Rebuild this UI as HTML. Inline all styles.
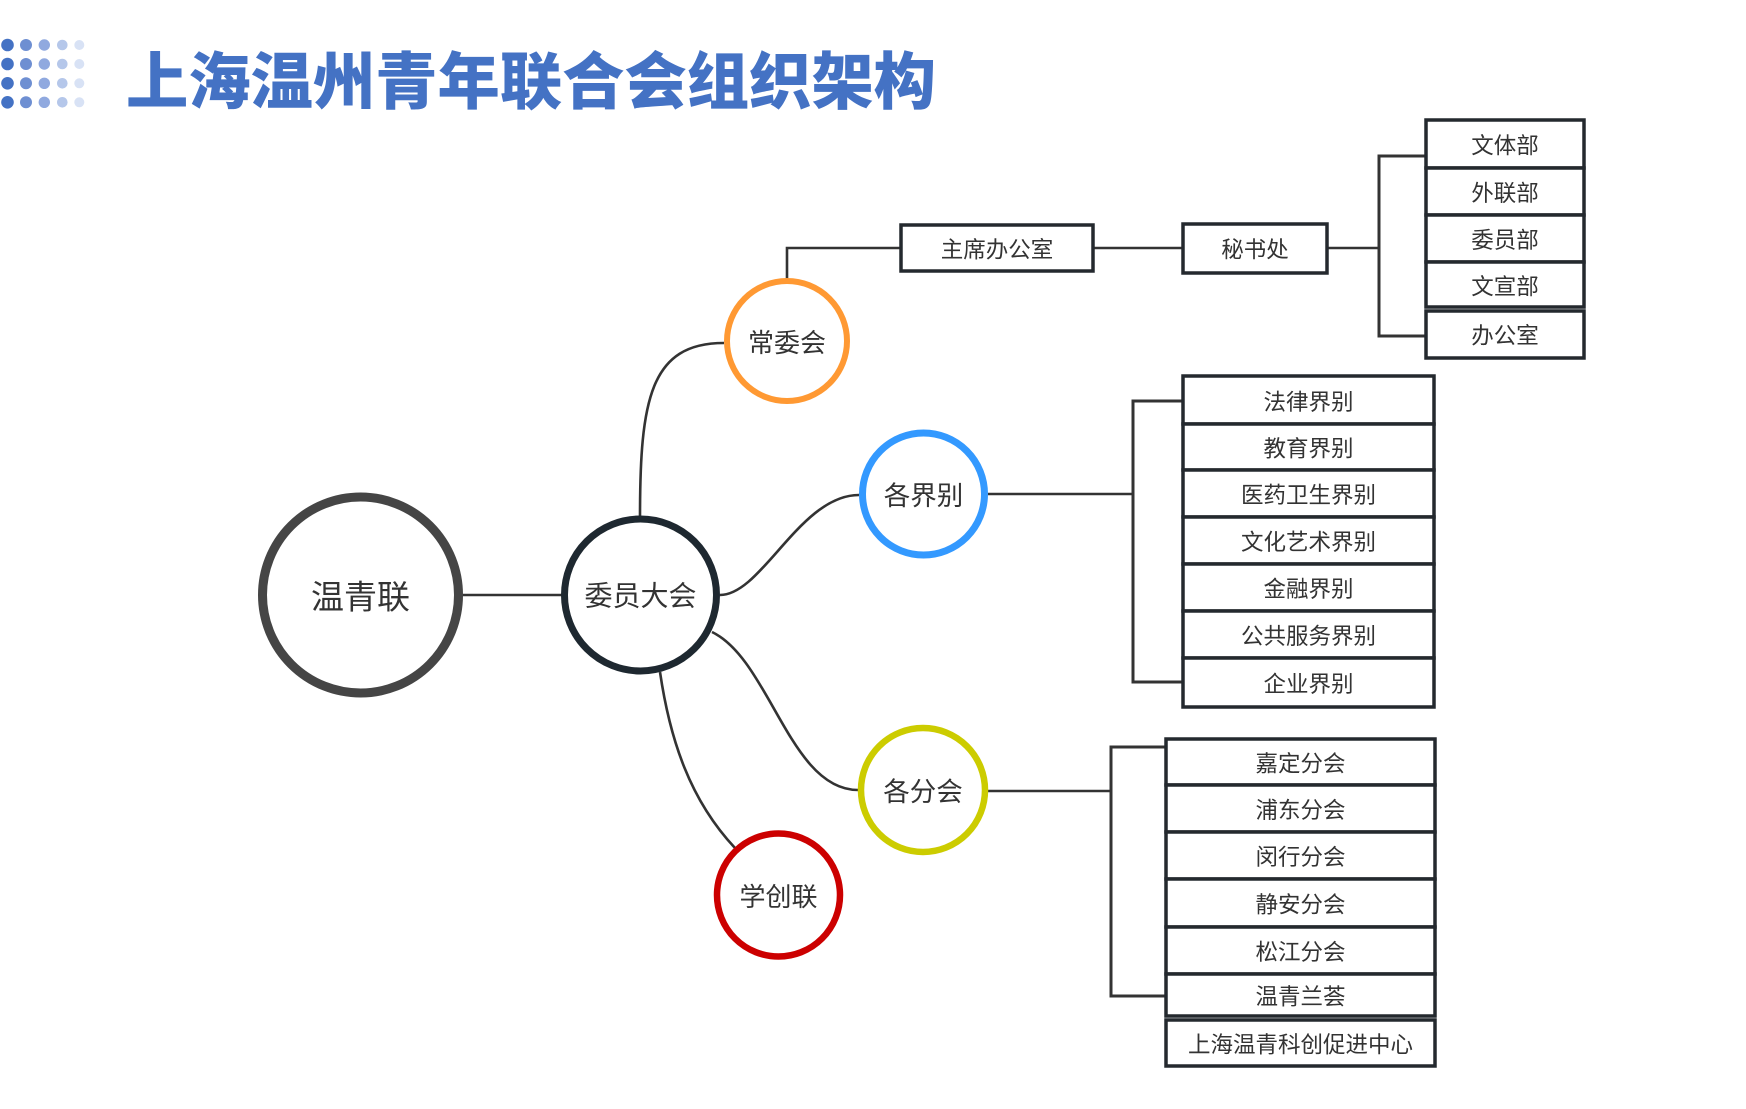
<!DOCTYPE html>
<html>
<head>
<meta charset="utf-8">
<style>
html,body{margin:0;padding:0;background:#fff;}
svg{display:block;}
text{font-family:"Liberation Sans","Noto Sans CJK SC",sans-serif;}
</style>
</head>
<body>
<svg width="1746" height="1109" viewBox="0 0 1746 1109" xmlns="http://www.w3.org/2000/svg">
<rect x="0" y="0" width="1746" height="1109" fill="#fff"/>

<!-- decorative dots -->
<g>
  <g fill="#4472C4"><circle cx="7.5" cy="45" r="6.3"/><circle cx="7.5" cy="64" r="6.3"/><circle cx="7.5" cy="83.3" r="6.3"/><circle cx="7.5" cy="102.3" r="6.3"/></g>
  <g fill="#6E8FD2"><circle cx="26" cy="45" r="6"/><circle cx="26" cy="64" r="6"/><circle cx="26" cy="83.3" r="6"/><circle cx="26" cy="102.3" r="6"/></g>
  <g fill="#90A9DF"><circle cx="44.3" cy="45" r="5.7"/><circle cx="44.3" cy="64" r="5.7"/><circle cx="44.3" cy="83.3" r="5.7"/><circle cx="44.3" cy="102.3" r="5.7"/></g>
  <g fill="#B5C7EA"><circle cx="62.3" cy="45" r="5.3"/><circle cx="62.3" cy="64" r="5.3"/><circle cx="62.3" cy="83.3" r="5.3"/><circle cx="62.3" cy="102.3" r="5.3"/></g>
  <g fill="#D8E2F5"><circle cx="79.3" cy="45" r="5"/><circle cx="79.3" cy="64" r="5"/><circle cx="79.3" cy="83.3" r="5"/><circle cx="79.3" cy="102.3" r="5"/></g>
</g>

<!-- title -->
<text x="126" y="83" font-size="62" font-weight="900" fill="#4472C4" dominant-baseline="central" textLength="810" lengthAdjust="spacingAndGlyphs">上海温州青年联合会组织架构</text>

<!-- connectors -->
<g fill="none" stroke="#333" stroke-width="2.6">
  <line x1="463" y1="595" x2="562" y2="595"/>
  <path d="M640,517 C640,400 650,343 724,343"/>
  <path d="M720,595 C762,595 800,495 859,495"/>
  <path d="M712,632 C770,660 790,790 858,790"/>
  <path d="M660,672 C670,740 690,800 735,848"/>
  <!-- 常委会 to offices -->
  <polyline points="787,279 787,248 901,248"/>
  <line x1="1093" y1="248" x2="1183" y2="248"/>
  <line x1="1327" y1="248" x2="1379" y2="248"/>
  <!-- 各界别 -->
  <line x1="988" y1="494" x2="1133" y2="494"/>
  <!-- 各分会 -->
  <line x1="988" y1="791" x2="1111" y2="791"/>
</g>
<g fill="none" stroke="#333" stroke-width="3">
  <polyline points="1426,156 1379,156 1379,336 1426,336"/>
  <polyline points="1183,401 1133,401 1133,682 1183,682"/>
  <polyline points="1166,747 1111,747 1111,996 1166,996"/>
</g>

<!-- circles -->
<circle cx="360.5" cy="595" r="98" fill="#fff" stroke="#454545" stroke-width="9"/>
<circle cx="640.5" cy="595" r="76" fill="#fff" stroke="#1E2830" stroke-width="7"/>
<circle cx="787" cy="341" r="60" fill="#fff" stroke="#FF9933" stroke-width="6"/>
<circle cx="923.5" cy="494" r="61" fill="#fff" stroke="#3399FF" stroke-width="7"/>
<circle cx="923" cy="790" r="62" fill="#fff" stroke="#CCCC00" stroke-width="6.5"/>
<circle cx="778.5" cy="895" r="61.5" fill="#fff" stroke="#CC0000" stroke-width="6.5"/>

<g fill="#333" text-anchor="middle" dominant-baseline="central">
  <text x="360.5" y="597" font-size="33">温青联</text>
  <text x="640.5" y="596" font-size="28">委员大会</text>
  <text x="787" y="343" font-size="26">常委会</text>
  <text x="923.5" y="496" font-size="26.5">各界别</text>
  <text x="923" y="792" font-size="26.5">各分会</text>
  <text x="778.5" y="897" font-size="26">学创联</text>
</g>

<!-- boxes -->
<g fill="#fff" stroke="#24292E" stroke-width="3.5">
  <rect x="901" y="225" width="192" height="46"/>
  <rect x="1183" y="224" width="144" height="49"/>

  <rect x="1426" y="120" width="158" height="48"/>
  <rect x="1426" y="168" width="158" height="47"/>
  <rect x="1426" y="215" width="158" height="47"/>
  <rect x="1426" y="262" width="158" height="45"/>
  <rect x="1426" y="311" width="158" height="47"/>

  <rect x="1183" y="376" width="251" height="48"/>
  <rect x="1183" y="424" width="251" height="46"/>
  <rect x="1183" y="470" width="251" height="47"/>
  <rect x="1183" y="517" width="251" height="47"/>
  <rect x="1183" y="564" width="251" height="47"/>
  <rect x="1183" y="611" width="251" height="47"/>
  <rect x="1183" y="658" width="251" height="49"/>

  <rect x="1166" y="739" width="269" height="46"/>
  <rect x="1166" y="785" width="269" height="47"/>
  <rect x="1166" y="832" width="269" height="47"/>
  <rect x="1166" y="879" width="269" height="48"/>
  <rect x="1166" y="927" width="269" height="47"/>
  <rect x="1166" y="974" width="269" height="42"/>
  <rect x="1166" y="1020" width="269" height="46"/>
</g>

<g fill="#333" text-anchor="middle" dominant-baseline="central" font-size="22.5">
  <text x="997" y="250">主席办公室</text>
  <text x="1255" y="250">秘书处</text>

  <text x="1505" y="146">文体部</text>
  <text x="1505" y="193.5">外联部</text>
  <text x="1505" y="240.5">委员部</text>
  <text x="1505" y="287">文宣部</text>
  <text x="1505" y="336">办公室</text>

  <text x="1308.5" y="402.5">法律界别</text>
  <text x="1308.5" y="449">教育界别</text>
  <text x="1308.5" y="495.5">医药卫生界别</text>
  <text x="1308.5" y="542.5">文化艺术界别</text>
  <text x="1308.5" y="589.5">金融界别</text>
  <text x="1308.5" y="636.5">公共服务界别</text>
  <text x="1308.5" y="684.5">企业界别</text>

  <text x="1300.5" y="764">嘉定分会</text>
  <text x="1300.5" y="810.5">浦东分会</text>
  <text x="1300.5" y="857.5">闵行分会</text>
  <text x="1300.5" y="905">静安分会</text>
  <text x="1300.5" y="952.5">松江分会</text>
  <text x="1300.5" y="997">温青兰荟</text>
  <text x="1300.5" y="1045">上海温青科创促进中心</text>
</g>
</svg>
</body>
</html>
